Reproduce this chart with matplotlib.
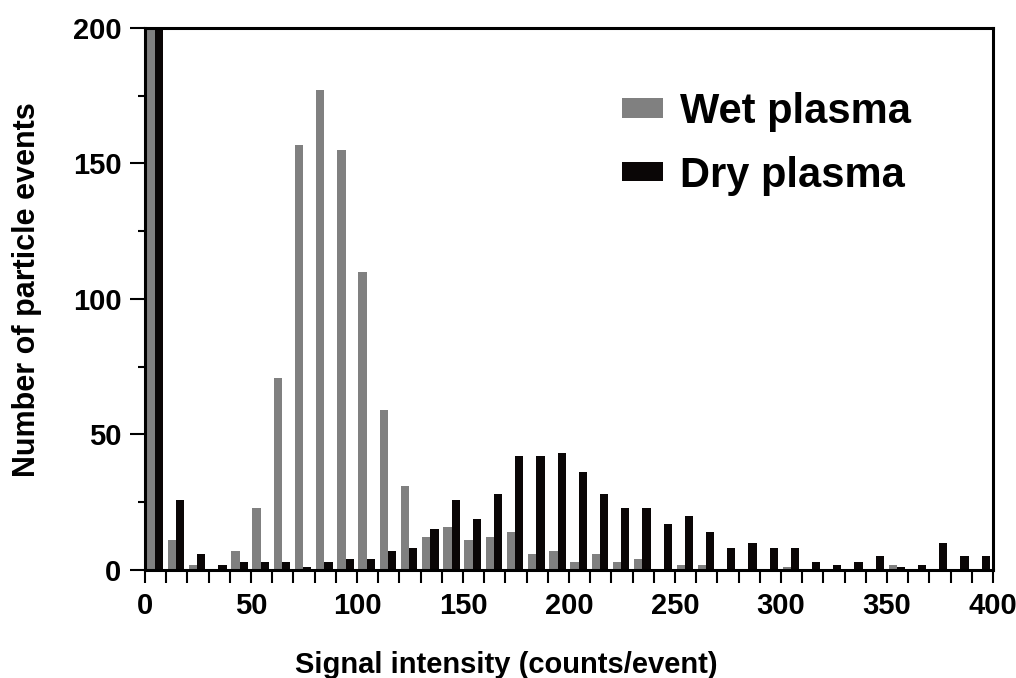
import matplotlib
matplotlib.use('Agg')
import matplotlib.pyplot as plt
import numpy as np
from matplotlib.patches import Patch
from matplotlib.ticker import MultipleLocator

plt.rcParams['font.family'] = ['Liberation Sans', 'DejaVu Sans']
plt.rcParams['font.weight'] = 'bold'

# bins of 10 counts/event, starting at 0
bin_edges = list(range(0, 400, 10))
# first bin runs off the top of the scale for both
wet = [400, 11, 2, 0, 7, 23, 71, 157, 177, 155,
       110, 59, 31, 12, 16, 11, 12, 14, 6, 7,
       3, 6, 3, 4, 0, 2, 2, 0, 0, 0,
       1, 0, 0, 0, 0, 2, 0, 0, 0, 0]
dry = [400, 26, 6, 2, 3, 3, 3, 1, 3, 4,
       4, 7, 8, 15, 26, 19, 28, 42, 42, 43,
       36, 28, 23, 23, 17, 20, 14, 8, 10, 8,
       8, 3, 2, 3, 5, 1, 2, 10, 5, 5]

gris = '#808080'
negro = '#0a0606'

fig = plt.figure(figsize=(10.16, 6.78), dpi=100)
ax = fig.add_axes([0.1427, 0.1593, 0.8347, 0.7994])

x = np.array(bin_edges)
ax.bar(x + 0.7, wet, width=3.9, align='edge', color=gris, edgecolor='none', label='Wet plasma')
ax.bar(x + 4.6, dry, width=3.9, align='edge', color=negro, edgecolor='none', label='Dry plasma')

ax.set_xlim(0, 400)
ax.set_ylim(0, 200)
ax.xaxis.set_major_locator(MultipleLocator(50))
ax.xaxis.set_minor_locator(MultipleLocator(10))
ax.yaxis.set_major_locator(MultipleLocator(50))
ax.yaxis.set_minor_locator(MultipleLocator(25))

for s in ax.spines.values():
    s.set_linewidth(2.2)
ax.tick_params(axis='x', which='both', direction='out', length=9, width=1.5, labelsize=21, pad=7)
ax.tick_params(axis='y', which='major', direction='out', length=11, width=1.5, labelsize=21, pad=6)
ax.tick_params(axis='y', which='minor', direction='out', length=5, width=1.5)

ax.set_xlabel('Signal intensity (counts/event)', fontsize=21, fontweight='bold')
ax.set_ylabel('Number of particle events', fontsize=22, fontweight='bold')
ax.xaxis.set_label_coords(0.426, -0.15)
ax.yaxis.set_label_coords(-0.121, 0.517)

handles = [Patch(facecolor=gris, edgecolor='none'), Patch(facecolor=negro, edgecolor='none')]
ax.legend(handles, ['Wet plasma', 'Dry plasma'], loc='upper left', bbox_to_anchor=(0.563, 0.882),
          frameon=False, fontsize=30, handlelength=0.97, handleheight=0.34,
          handletextpad=0.4, labelspacing=0.57, borderaxespad=0, borderpad=0)

fig.savefig('out.png', dpi=100)
